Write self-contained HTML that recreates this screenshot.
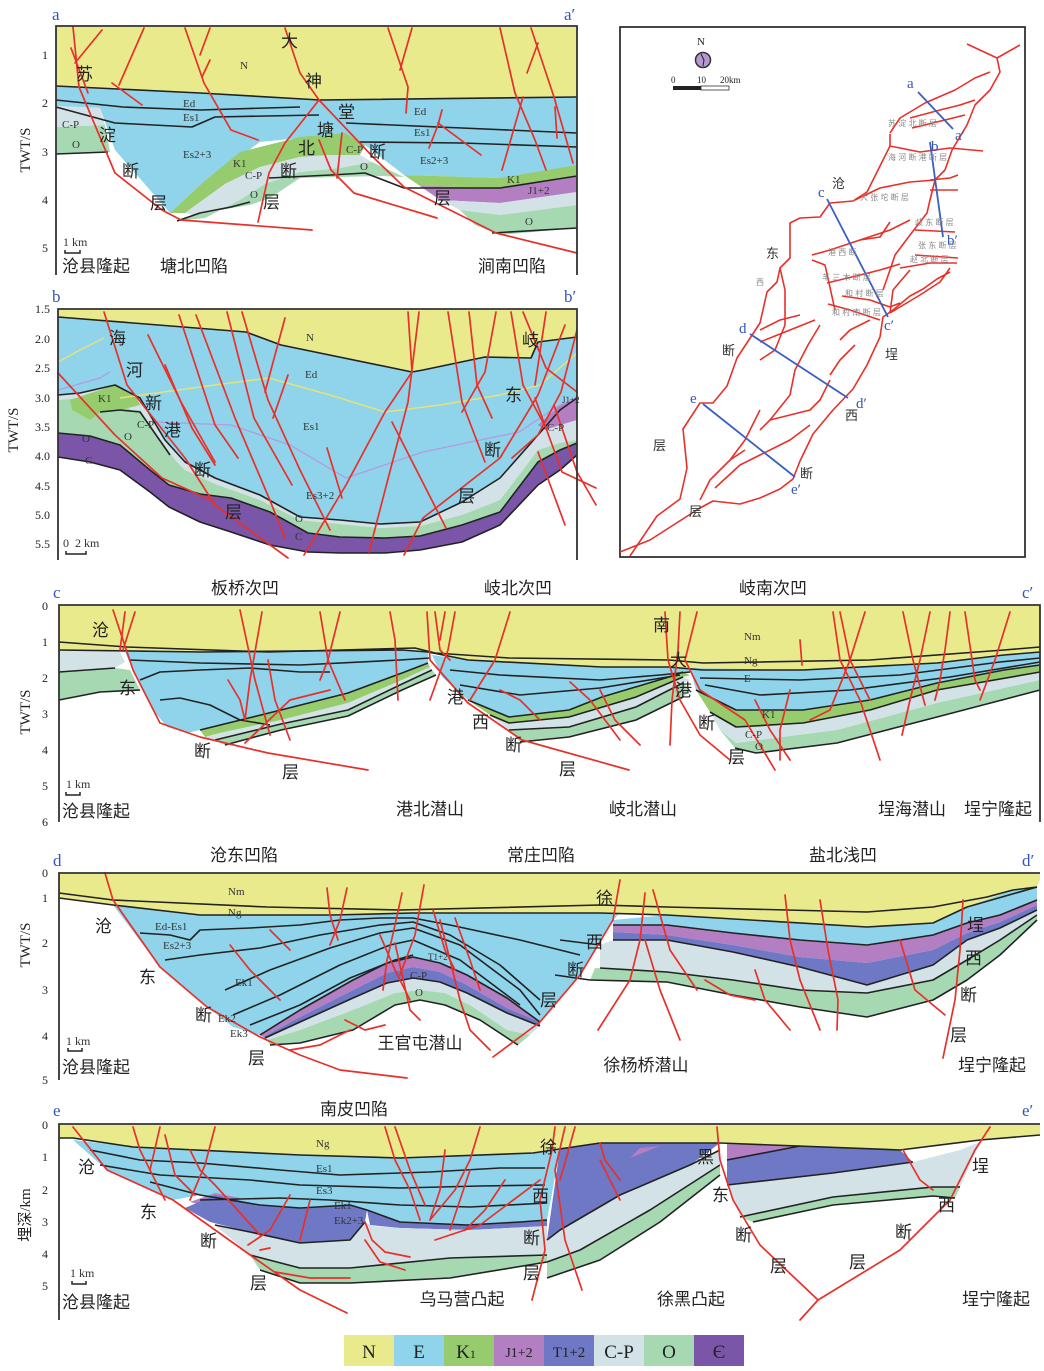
<!DOCTYPE html>
<html><head><meta charset="utf-8"><style>
html,body{margin:0;padding:0;background:#fff;}
svg{display:block;}
.cj{font-family:"Liberation Sans","Noto Sans CJK SC",sans-serif;font-size:17px;fill:#222;}
.bt{font-family:"Liberation Sans","Noto Sans CJK SC",sans-serif;font-size:17px;fill:#222;}
.sm{font-family:"Liberation Serif",serif;font-size:11px;fill:#333;}
.tk{font-family:"Liberation Serif",serif;font-size:12px;fill:#222;text-anchor:end;}
.bl{font-family:"Liberation Serif",serif;font-size:17px;fill:#3355bb;}
.f{fill:none;stroke:#e8302a;stroke-width:1.7;stroke-linejoin:round;stroke-linecap:round;}
.h{fill:none;stroke:#222;stroke-width:1.6;stroke-linejoin:round;}
.fr{fill:none;stroke:#333;stroke-width:1.8;}
.N{fill:#e9ea8c}.E{fill:#8fd4ea}.K{fill:#97cc6e}.J{fill:#b47ec2}.T{fill:#6f78c4}.C{fill:#d3e2e6}.O{fill:#a6d9b2}.Q{fill:#7b55a8}
.mp{fill:none;stroke:#e8302a;stroke-width:1.6;stroke-linejoin:round;}
.ml{stroke:#3a5fc0;stroke-width:1.8;}
.gs{font-family:"Liberation Sans","Noto Sans CJK SC",sans-serif;font-size:8px;fill:#888;}
</style></head><body>
<svg width="1044" height="1371" viewBox="0 0 1044 1371" xmlns="http://www.w3.org/2000/svg">
<rect width="1044" height="1371" fill="#fff"/>

<!-- ===== Panel a ===== -->
<polygon class="N" points="56,26 577,26 577,97 320,100 200,93 56,86"/>
<polygon class="E" points="56,86 200,93 320,100 577,97 577,168 500,178 404,175 365,145 330,135 260,142 200,185 170,213 150,190 115,150 100,108 56,106"/>
<polygon class="C" points="56,106 100,108 105,125 56,127"/>
<polygon class="O" points="56,127 105,125 110,152 56,154"/>
<polygon class="K" points="170,213 200,185 240,152 300,137 345,133 365,145 360,155 330,155 300,157 260,167 225,184 185,213"/>
<polygon class="C" points="185,213 225,184 260,167 300,157 330,155 360,155 372,162 340,168 300,172 265,184 240,200 205,218"/>
<polygon class="O" points="205,218 240,200 265,184 300,172 340,168 372,162 404,177 380,176 340,177 300,178 270,198 250,205 232,208 200,214 177,221"/>
<polygon class="K" points="404,175 500,178 577,165 577,176 500,188 420,186"/>
<polygon class="J" points="420,186 500,188 577,176 577,192 500,203 440,200"/>
<polygon class="C" points="440,200 500,203 577,192 577,205 500,215 460,210"/>
<polygon class="O" points="460,210 500,215 577,205 577,228 500,235 475,225"/>
<polyline class="h" points="56,86 200,93 320,100 577,97"/>
<polyline class="h" points="56,100 123,107 200,110 300,107"/>
<polyline class="h" points="56,107 115,123 192,127 215,117 319,115"/>
<polyline class="h" points="346,123 462,128 577,133"/>
<polyline class="h" points="358,142 462,143 577,147"/>
<polyline class="h" points="56,154 108,152"/>
<polyline class="h" points="177,221 200,213 231,207 250,202"/>
<polyline class="h" points="269,178 331,175 365,173 404,188 500,188 577,176"/>
<polyline class="h" points="492,233 577,228"/>
<polyline class="f" points="73,27 79,87 115,173 162,210 181,220 312,230"/>
<polyline class="f" points="71,48 88,93"/>
<polyline class="f" points="102,30 75,63"/>
<polyline class="f" points="144,28 119,85"/>
<polyline class="f" points="112,83 142,105"/>
<polyline class="f" points="185,28 204,83 231,130 258,140"/>
<polyline class="f" points="210,28 200,55"/>
<polyline class="f" points="210,60 202,77"/>
<polyline class="f" points="285,28 300,73 319,100 373,157 404,187 496,233 577,253"/>
<polyline class="f" points="319,100 285,143 269,173 258,222"/>
<polyline class="f" points="319,140 331,170 354,193 437,218"/>
<polyline class="f" points="342,133 337,178"/>
<polyline class="f" points="388,28 408,87 406,113"/>
<polyline class="f" points="412,28 400,70"/>
<polyline class="f" points="500,28 515,93 535,140 546,170"/>
<polyline class="f" points="531,28 554,97 573,163"/>
<polyline class="f" points="523,97 502,170"/>
<polyline class="f" points="538,43 527,73"/>
<polyline class="f" points="442,110 438,125 429,148"/>
<polyline class="f" points="438,123 481,155"/>
<polyline class="f" points="555,107 557,138"/>
<polyline class="fr" points="56,275 56,26 577,26 577,275"/>
<g class="tk"><text x="48" y="59">1</text><text x="48" y="107">2</text><text x="48" y="156">3</text><text x="48" y="204">4</text><text x="48" y="252">5</text></g>
<text class="bt" transform="translate(30,150) rotate(-90)" text-anchor="middle" style="font-family:'Liberation Serif',serif;font-size:15px">TWT/S</text>
<text class="bl" x="52" y="20">a</text><text class="bl" x="564" y="20">a′</text>
<g class="sm"><text x="240" y="69">N</text><text x="183" y="107">Ed</text><text x="183" y="121">Es1</text><text x="183" y="158">Es2+3</text><text x="233" y="167">K1</text><text x="245" y="179">C-P</text><text x="250" y="198">O</text><text x="62" y="128">C-P</text><text x="72" y="148">O</text><text x="414" y="115">Ed</text><text x="414" y="136">Es1</text><text x="420" y="164">Es2+3</text><text x="507" y="183">K1</text><text x="528" y="194">J1+2</text><text x="525" y="225">O</text><text x="346" y="153">C-P</text><text x="360" y="170">O</text></g>
<g class="cj"><text x="76" y="80">苏</text><text x="99" y="141">淀</text><text x="122" y="177">断</text><text x="150" y="209">层</text><text x="281" y="47">大</text><text x="305" y="87">神</text><text x="338" y="118">堂</text><text x="317" y="136">塘</text><text x="298" y="154">北</text><text x="280" y="177">断</text><text x="263" y="208">层</text><text x="369" y="158">断</text><text x="434" y="204">层</text></g>
<g class="bt"><text x="62" y="272">沧县隆起</text><text x="160" y="272">塘北凹陷</text><text x="478" y="272">涧南凹陷</text></g>
<text class="sm" x="63" y="246" style="font-size:12px">1 km</text><polyline points="65,250 65,253 80,253 80,250" fill="none" stroke="#222" stroke-width="1.5"/>

<!-- ===== Panel b ===== -->
<polygon class="N" points="58,309 577,309 577,337 538,342 531,358 485,357 423,370 412,372 281,345 246,332 58,317"/>
<polygon class="E" points="58,317 246,332 281,345 412,372 423,370 485,357 531,358 538,342 577,337 577,398 560,410 538,435 500,478 462,502 420,522 380,524 340,520 300,517 260,495 215,478 185,462 165,440 140,398 115,385 80,393 58,395"/>
<polygon class="C" points="58,395 80,393 115,385 140,398 165,440 185,462 215,478 260,495 300,517 340,520 380,524 420,522 462,502 500,478 538,435 560,410 577,398 577,440 560,443 538,450 500,500 462,515 420,526 380,528 340,524 300,520 260,500 215,484 185,470 165,450 140,415 115,400 80,398 58,400"/>
<polygon class="O" points="58,400 80,398 115,400 140,415 165,450 185,470 215,484 260,500 300,520 340,524 380,528 420,526 462,515 500,500 538,450 560,443 577,440 577,443 560,450 538,462 500,512 462,525 420,536 385,538 340,537 308,533 270,512 231,498 200,494 169,485 150,470 120,445 90,436 58,433"/>
<polygon class="Q" points="58,433 90,436 120,445 150,470 169,485 200,494 231,498 270,512 308,533 340,537 385,538 420,536 462,525 500,512 538,462 560,450 577,443 577,455 560,470 538,485 500,525 462,542 420,550 385,553 340,553 308,552 270,545 231,532 200,522 169,507 150,492 120,470 90,462 58,457"/>
<polygon class="K" points="70,400 115,385 135,395 140,405 120,410 100,412 90,420 72,410"/>
<polygon class="O" points="95,418 120,410 140,410 160,440 175,460 150,458 120,445 100,438"/>
<polygon class="J" points="538,425 560,405 577,397 577,420 560,425 545,430"/>
<polyline fill="none" stroke="#e4e27a" stroke-width="1.5" points="58,362 80,350 104,338"/>
<polyline fill="none" stroke="#e4e27a" stroke-width="1.5" points="120,398 215,385 269,378 330,395 385,412 440,405 500,395 540,385 577,353"/>
<polyline fill="none" stroke="#b59ae0" stroke-width="1.3" points="58,390 100,378 110,372"/>
<polyline fill="none" stroke="#b59ae0" stroke-width="1.3" points="154,422 231,425 290,445 346,478 423,452 480,440 519,432 560,405 577,398"/>
<polyline class="h" points="58,317 246,332 281,345 412,372 423,370 485,357 531,358 538,342 577,337"/>
<polyline class="h" points="58,395 80,393 115,385 140,398 165,440 185,462 215,478 260,495 300,517 340,520 380,524 420,522 462,502 500,478 538,435 560,410 577,398"/>
<polyline class="h" points="58,433 90,436 120,445 150,470 169,485 200,494 231,498 270,512 308,533 340,537 385,538 420,536 462,525 500,512 538,462 560,450 577,443"/>
<polyline class="h" points="58,457 90,462 120,470 150,492 169,507 200,522 231,532 270,545 308,552 340,553 385,553 420,550 462,542 500,525 538,485 560,470 577,455"/>
<polyline class="h" points="100,412 120,410 140,412 170,455"/>
<polyline class="f" points="58,373 115,435 162,478 215,502"/>
<polyline class="f" points="104,312 127,385 185,458 215,505 288,558"/>
<polyline class="f" points="148,335 181,402 215,462"/>
<polyline class="f" points="165,365 192,428 215,465"/>
<polyline class="f" points="179,315 215,425 238,458"/>
<polyline class="f" points="196,315 235,418 269,498 285,538"/>
<polyline class="f" points="227,312 254,418 292,485"/>
<polyline class="f" points="242,312 268,400 300,470 330,530"/>
<polyline class="f" points="285,318 265,392"/>
<polyline class="f" points="288,375 273,418"/>
<polyline class="f" points="327,448 342,498"/>
<polyline class="f" points="408,312 412,372 385,412 346,485 304,555"/>
<polyline class="f" points="419,312 408,402 369,552"/>
<polyline class="f" points="392,422 446,528"/>
<polyline class="f" points="448,312 462,402 485,462"/>
<polyline class="f" points="469,312 477,385 492,418"/>
<polyline class="f" points="496,312 485,372 462,412"/>
<polyline class="f" points="511,312 523,385 546,428"/>
<polyline class="f" points="523,312 546,368 577,392"/>
<polyline class="f" points="546,312 535,385"/>
<polyline class="f" points="565,325 538,395 500,458 423,518 404,555"/>
<polyline class="f" points="577,330 561,392 538,435 512,458"/>
<polyline class="f" points="535,398 562,472 596,488"/>
<polyline class="f" points="554,405 577,472 596,505"/>
<polyline class="f" points="538,452 565,525"/>
<polyline class="fr" points="58,560 58,309 577,309 577,560"/>
<g class="tk"><text x="50" y="313">1.5</text><text x="50" y="343">2.0</text><text x="50" y="372">2.5</text><text x="50" y="402">3.0</text><text x="50" y="431">3.5</text><text x="50" y="460">4.0</text><text x="50" y="490">4.5</text><text x="50" y="519">5.0</text><text x="50" y="548">5.5</text></g>
<text transform="translate(18,430) rotate(-90)" text-anchor="middle" style="font-family:'Liberation Serif',serif;font-size:15px;fill:#222">TWT/S</text>
<text class="bl" x="52" y="302">b</text><text class="bl" x="564" y="302">b′</text>
<g class="sm"><text x="306" y="341">N</text><text x="305" y="378">Ed</text><text x="303" y="430">Es1</text><text x="306" y="499">Es3+2</text><text x="295" y="522">O</text><text x="295" y="540">C</text><text x="98" y="402">K1</text><text x="137" y="428">C-P</text><text x="82" y="442">O</text><text x="124" y="440">O</text><text x="85" y="464">C</text><text x="547" y="431">C-P</text><text x="562" y="403" style="font-size:9px">J1+2</text></g>
<g class="cj"><text x="109" y="344">海</text><text x="126" y="376">河</text><text x="145" y="409">新</text><text x="164" y="436">港</text><text x="194" y="476">断</text><text x="225" y="518">层</text><text x="522" y="346">岐</text><text x="505" y="401">东</text><text x="484" y="456">断</text><text x="458" y="502">层</text></g>
<text class="sm" x="63" y="547" style="font-size:12px">0&#160;&#160;2 km</text><polyline points="66,551 66,554 86,554 86,551" fill="none" stroke="#222" stroke-width="1.5"/>

<!-- ===== Map ===== -->
<rect x="620" y="27" width="405" height="530" fill="none" stroke="#333" stroke-width="1.8"/>
<text x="697" y="45" style="font-family:'Liberation Serif',serif;font-size:11px;fill:#222">N</text>
<circle cx="703" cy="60" r="7.5" fill="#b49ad0" stroke="#333" stroke-width="1.5"/>
<polyline points="701,54 704,60 703,66" fill="none" stroke="#222" stroke-width="1"/>
<rect x="673" y="86" width="28" height="4" fill="#222"/><rect x="701" y="86" width="28" height="4" fill="#fff" stroke="#333" stroke-width="0.8"/>
<g style="font-family:'Liberation Serif',serif;font-size:9px;fill:#222"><text x="671" y="83">0</text><text x="697" y="83">10</text><text x="720" y="83">20km</text></g>
<polyline class="mp" points="630,556 657,516 680,499 687,468 683,429 700,403 713,403 727,386 737,358 760,323 767,292 777,282 780,268 790,258 790,223 800,218 820,217 830,203 853,201 867,192 877,172 890,146 890,134"/>
<polyline class="mp" points="620,552 650,540 700,508 713,501 740,504 760,498 780,489 793,479 800,461 813,434 833,410 853,389 867,365 880,337 883,317 893,310 910,296 923,289 937,279 950,272"/>
<polyline class="mp" points="890,146 920,152 950,148 983,151"/>
<polyline class="mp" points="967,44 997,58 1000,72 990,90 975,105 967,125 952,150 945,170 935,180 930,200 927,213 910,235 895,255 890,270 883,290"/>
<polyline class="mp" points="997,58 1020,45"/>
<polyline class="mp" points="890,133 900,118 925,103 955,90 975,78 990,72"/>
<polyline class="mp" points="910,118 940,110 960,105 975,100"/>
<polyline class="mp" points="912,128 945,120 965,115"/>
<polyline class="mp" points="855,200 880,188 910,182 935,180"/>
<polyline class="mp" points="930,180 950,178 958,175"/>
<polyline class="mp" points="930,190 958,190"/>
<polyline class="mp" points="812,255 830,250 860,240 890,230 910,220"/>
<polyline class="mp" points="860,240 880,237 890,222"/>
<polyline class="mp" points="812,260 825,265 835,310"/>
<polyline class="mp" points="827,283 860,275 880,270 900,264"/>
<polyline class="mp" points="842,296 870,300 890,307 900,303"/>
<polyline class="mp" points="828,304 850,310 880,320"/>
<polyline class="mp" points="915,230 955,232"/>
<polyline class="mp" points="915,255 958,258"/>
<polyline class="mp" points="900,268 930,263 957,263"/>
<polyline class="mp" points="890,313 920,295 940,282 950,268"/>
<polyline class="mp" points="890,313 893,290 910,270"/>
<polyline class="mp" points="780,268 785,290 785,325 775,350 760,360"/>
<polyline class="mp" points="760,330 780,320 800,315"/>
<polyline class="mp" points="760,342 790,330 815,320"/>
<polyline class="mp" points="820,325 808,345 795,370 790,395 770,420 760,430"/>
<polyline class="mp" points="855,345 840,360 830,375"/>
<polyline class="mp" points="870,320 850,330 840,340"/>
<polyline class="mp" points="770,420 790,415 810,410 820,400 830,380"/>
<polyline class="mp" points="810,425 790,440 760,455 740,465 715,488"/>
<polyline class="mp" points="745,450 730,460 710,480 700,500"/>
<polyline class="mp" points="760,410 745,440 730,460"/>
<line class="ml" x1="918" y1="92" x2="953" y2="129"/>
<line class="ml" x1="930" y1="142" x2="943" y2="237"/>
<line class="ml" x1="827" y1="199" x2="888" y2="317"/>
<line class="ml" x1="750" y1="334" x2="848" y2="398"/>
<line class="ml" x1="703" y1="404" x2="795" y2="477"/>
<g class="bl" style="font-size:15px"><text x="907" y="88">a</text><text x="955" y="140">a′</text><text x="931" y="151">b</text><text x="947" y="245">b′</text><text x="818" y="197">c</text><text x="884" y="330">c′</text><text x="739" y="333">d</text><text x="856" y="408">d′</text><text x="690" y="403">e</text><text x="791" y="494">e′</text></g>
<g class="cj" style="font-size:13px;fill:#333"><text x="832" y="188">沧</text><text x="766" y="258">东</text><text x="722" y="355">断</text><text x="653" y="450">层</text><text x="689" y="516">层</text><text x="885" y="359">埕</text><text x="845" y="420">西</text><text x="800" y="478">断</text></g>
<g class="gs"><text x="888" y="126">苏 淀 北 断 层</text><text x="888" y="160">海 河 断 港 断 层</text><text x="860" y="200">大 张 坨 断 层</text><text x="828" y="255">港 西 断</text><text x="915" y="225">歧 东 断 层</text><text x="918" y="248">张 东 断 层</text><text x="910" y="262">赵 北 断 层</text><text x="822" y="280">羊 三 木 断 层</text><text x="845" y="296">和 村 断 层</text><text x="832" y="315">和 村 南 断 层</text><text x="756" y="285">西</text></g>

<!-- ===== Panel c ===== -->
<polygon class="N" points="59,605 1040,605 1040,647 1004,650 870,660 703,663 669,660 509,658 435,653 415,648 268,652 127,647 59,642"/>
<polygon class="N" points="59,642 127,647 268,652 415,648 435,653 509,658 669,660 703,663 870,660 1004,650 1040,647 1040,652 1004,655 937,663 803,670 703,670 669,667 602,667 468,660 428,652 402,650 201,652 59,650"/>
<polygon class="C" points="59,650 120,652 125,662 115,668 59,672"/>
<polygon class="O" points="59,672 115,668 130,670 140,690 100,692 59,700"/>
<polygon class="E" points="125,652 201,652 402,650 428,652 428,663 402,673 348,693 281,710 200,730 187,733 167,727 153,710 133,670"/>
<polygon class="K" points="200,730 281,710 348,693 402,673 428,663 430,667 402,680 348,703 281,720 220,733 205,737"/>
<polygon class="C" points="205,737 220,733 281,720 348,703 402,680 430,667 432,670 402,684 348,710 281,724 215,740"/>
<polygon class="O" points="215,740 281,724 348,710 402,684 432,670 436,675 402,690 348,716 281,730 225,745"/>
<polygon class="E" points="432,655 468,660 602,667 669,667 703,670 683,672 669,677 602,697 569,710 509,717 468,700 442,677"/>
<polygon class="K" points="468,700 509,717 569,710 602,697 669,677 683,672 690,675 683,677 636,697 569,717 509,723 490,715"/>
<polygon class="C" points="490,715 509,723 569,717 636,697 683,677 690,680 683,683 636,707 569,727 509,730"/>
<polygon class="O" points="509,730 569,727 636,707 683,683 690,690 683,697 636,720 569,737 520,742"/>
<polygon class="E" points="690,668 803,670 937,663 1004,655 1040,652 1040,665 1004,670 937,683 870,700 803,710 736,710 696,690"/>
<polygon class="K" points="696,690 736,710 803,710 870,700 937,683 1004,670 1040,665 1040,672 937,690 870,710 803,723 736,727 710,712"/>
<polygon class="C" points="710,712 736,727 803,723 870,710 937,690 1040,672 1040,680 937,703 837,730 736,743 720,730"/>
<polygon class="O" points="720,730 736,743 837,730 937,703 1040,680 1040,690 937,717 837,743 756,753 735,748"/>
<g class="h">
<polyline points="59,642 127,647 268,652 415,648 435,653 509,658 669,660 703,663 870,660 1004,650 1040,647"/>
<polyline points="59,650 201,652 402,650 428,652 468,660 602,667 669,667 703,670 803,670 937,663 1004,655 1040,652"/>
<polyline points="130,660 200,663 300,665 400,660 430,658"/>
<polyline points="140,680 160,672 200,670 250,668 300,672 330,672"/>
<polyline points="160,700 180,698 210,705 240,720 270,725"/>
<polyline points="200,730 281,710 348,693 402,673 428,663"/>
<polyline points="215,740 281,724 348,710 402,684 432,670"/>
<polyline points="225,745 281,730 348,716 402,690 436,675"/>
<polyline points="59,672 115,668"/><polyline points="59,700 100,692 140,690"/>
<polyline points="450,670 500,675 600,680 660,675 690,672"/>
<polyline points="460,685 520,695 600,688 680,675"/>
<polyline points="468,700 509,717 569,710 602,697 669,677 683,672"/>
<polyline points="490,715 509,723 569,717 636,697 683,677"/>
<polyline points="509,730 569,727 636,707 683,683"/>
<polyline points="520,742 569,737 636,720 683,697"/>
<polyline points="700,678 800,680 900,675 1000,662 1040,658"/>
<polyline points="705,685 760,695 850,690 950,677 1040,662"/>
<polyline points="696,690 736,710 803,710 870,700 937,683 1004,670 1040,665"/>
<polyline points="710,712 736,727 803,723 870,710 937,690 1040,672"/>
<polyline points="735,748 756,753 837,743 937,717 1040,690"/>
</g>
<g class="f">
<polyline points="113,610 133,670 160,723 200,737 268,753 368,770"/>
<polyline points="125,612 120,650"/><polyline points="135,612 123,650"/>
<polyline points="240,610 255,680 270,735"/><polyline points="262,612 250,680 245,720"/>
<polyline points="268,660 275,700 290,740"/><polyline points="245,743 290,700 330,690"/>
<polyline points="320,612 328,660 345,700"/><polyline points="340,612 328,660 320,680"/>
<polyline points="390,612 395,640 398,700"/><polyline points="228,680 240,700 245,720"/>
<polyline points="427,612 430,660 468,703 522,740 629,770"/>
<polyline points="435,612 440,650 450,660"/><polyline points="445,612 440,640"/><polyline points="455,612 448,650 430,700"/>
<polyline points="510,612 495,660 470,700"/><polyline points="500,690 520,700 540,720"/>
<polyline points="570,682 590,700 620,740"/><polyline points="600,690 615,720 640,745"/>
<polyline points="665,612 668,660 680,700 700,735 730,760"/><polyline points="680,612 678,650 672,700 670,745"/>
<polyline points="697,612 685,660 700,690 745,720 775,770"/>
<polyline points="755,700 770,730 790,760"/><polyline points="790,690 780,730 780,760"/>
<polyline points="800,640 802,665"/>
<polyline points="833,612 840,660 860,700 880,760"/><polyline points="840,612 850,660 870,700"/><polyline points="865,612 850,660 830,710 810,720"/>
<polyline points="903,612 913,660 925,705"/><polyline points="930,612 920,660 910,700 902,735"/><polyline points="950,612 945,650 940,680 935,700"/>
<polyline points="965,612 975,680 980,690"/><polyline points="1010,612 995,660 980,700"/>
</g>
<polyline class="fr" points="59,822 59,605 1040,605 1040,822"/>
<g class="tk"><text x="48" y="610">0</text><text x="48" y="646">1</text><text x="48" y="682">2</text><text x="48" y="718">3</text><text x="48" y="754">4</text><text x="48" y="790">5</text><text x="48" y="826">6</text></g>
<text transform="translate(30,712) rotate(-90)" text-anchor="middle" style="font-family:'Liberation Serif',serif;font-size:15px;fill:#222">TWT/S</text>
<text class="bl" x="53" y="598">c</text><text class="bl" x="1022" y="598">c′</text>
<g class="bt" text-anchor="middle"><text x="245" y="594">板桥次凹</text><text x="518" y="594">岐北次凹</text><text x="773" y="594">岐南次凹</text></g>
<g class="cj"><text x="92" y="636">沧</text><text x="119" y="694">东</text><text x="194" y="757">断</text><text x="282" y="778">层</text><text x="653" y="631">南</text><text x="670" y="666">大</text><text x="675" y="696">港</text><text x="698" y="729">断</text><text x="728" y="763">层</text><text x="447" y="703">港</text><text x="472" y="728">西</text><text x="505" y="751">断</text><text x="559" y="775">层</text></g>
<g class="sm"><text x="744" y="640">Nm</text><text x="744" y="664">Ng</text><text x="744" y="682">E</text><text x="762" y="718">K1</text><text x="745" y="738">C-P</text><text x="755" y="750">O</text></g>
<g class="bt"><text x="62" y="817">沧县隆起</text><text text-anchor="middle" x="430" y="815">港北潜山</text><text text-anchor="middle" x="643" y="815">岐北潜山</text><text x="878" y="815">埕海潜山</text><text x="964" y="815">埕宁隆起</text></g>
<text class="sm" x="66" y="788" style="font-size:12px">1 km</text><polyline points="66,792 66,795 80,795 80,792" fill="none" stroke="#222" stroke-width="1.5"/>

<!-- ===== Panel d ===== -->
<polygon class="N" points="59,873 1040,873 1040,880 1013,890 987,897 933,907 867,912 667,907 600,905 400,910 267,907 113,900 59,893"/>
<polygon class="N" points="59,893 113,900 267,907 400,910 600,905 667,907 867,912 933,907 987,897 1013,890 1040,880 1037,887 967,907 933,923 867,927 667,915 600,913 413,913 333,915 200,915 113,905 59,898"/>
<polygon class="E" points="113,905 200,915 333,915 413,913 600,913 620,913 613,920 580,975 540,1022 507,998 467,975 440,963 413,957 387,963 353,980 300,1010 260,1035 233,1027 207,1007 160,967"/>
<polygon class="J" points="260,1035 300,1010 353,980 387,963 413,957 440,963 467,975 507,998 540,1022 507,1008 467,985 440,972 413,967 387,973 353,990 300,1017 263,1037"/>
<polygon class="T" points="263,1037 300,1017 353,990 387,973 413,967 440,972 467,985 507,1008 540,1022 540,1026 507,1013 467,993 440,982 413,978 387,983 353,998 300,1022 265,1038"/>
<polygon class="C" points="265,1038 300,1022 353,998 387,983 413,978 440,982 467,993 507,1013 540,1026 530,1035 507,1030 470,1005 445,993 420,990 395,993 353,1010 300,1030 267,1040"/>
<polygon class="O" points="267,1040 300,1030 353,1010 395,993 420,990 445,993 470,1005 507,1030 530,1035 518,1045 480,1020 445,1005 420,1000 395,1005 353,1030 300,1043 270,1045"/>
<polygon class="E" points="613,920 667,915 867,927 933,923 967,907 1013,890 1037,887 1037,900 1000,915 967,923 933,935 867,945 800,940 733,933 667,925 613,925"/>
<polygon class="J" points="613,925 667,925 733,933 800,940 867,945 933,935 967,923 1000,915 1037,900 1037,905 1000,922 967,933 933,950 867,963 800,957 733,945 667,935 613,932"/>
<polygon class="T" points="613,932 667,935 733,945 800,957 867,963 933,950 967,933 1000,922 1037,905 1037,910 1000,928 967,940 933,965 867,985 800,967 733,952 667,940 613,940"/>
<polygon class="C" points="600,945 613,940 667,940 733,952 800,967 867,985 933,965 967,940 1000,928 1037,910 1037,915 1000,940 967,960 933,980 867,993 800,990 733,980 667,972 600,968"/>
<polygon class="O" points="595,968 667,972 733,980 800,990 867,993 933,980 967,960 1000,940 1037,915 1037,920 1000,955 967,980 933,1000 867,1017 800,1007 733,995 667,982 590,980"/>
<g class="h">
<polyline points="59,893 113,900 267,907 400,910 600,905 667,907 867,912 933,907 987,897 1013,890 1037,887"/>
<polyline points="59,898 113,905 200,915 333,915 413,913 600,913 667,915 867,927 933,923 967,907 1037,887"/>
<polyline points="140,933 170,935 190,940 200,930 250,928 300,925 340,920 380,918 413,918 450,925 520,940 560,950 580,955"/>
<polyline points="165,960 200,955 260,948 320,935 380,925 413,922 450,935 500,965 540,1000"/>
<polyline points="225,990 270,970 330,948 380,933 413,928 460,945 520,990 540,1015"/>
<polyline points="233,1015 280,995 340,965 390,945 413,940 460,960 520,1005"/>
<polyline points="250,1025 300,1005 350,978 395,960 413,955"/>
<polyline points="260,1035 300,1010 353,980 387,963 413,957 440,963 467,975 507,998 540,1022"/>
<polyline points="265,1038 300,1022 353,998 387,983 413,978 440,982 467,993 507,1013 540,1026"/>
<polyline points="270,1045 300,1043 353,1030 395,1005 420,1000 445,1005 480,1020 518,1045"/>
<polyline points="613,925 667,925 733,933 800,940 867,945 933,935 967,923 1000,915 1037,900"/>
<polyline points="613,940 667,940 733,952 800,967 867,985 933,965 967,940 1000,928 1037,910"/>
<polyline points="600,968 667,972 733,980 800,990 867,993 933,980 967,960 1000,940 1037,915"/>
<polyline points="590,980 667,982 733,995 800,1007 867,1017 933,1000 967,980 1000,955 1037,920"/>
<polyline points="560,940 600,945"/><polyline points="555,975 590,980"/>
</g>
<g class="f">
<polyline points="105,873 113,900 160,967 207,1007 260,1037 300,1055 340,1070 407,1078"/>
<polyline points="327,888 330,915 338,940"/><polyline points="347,888 340,920 330,945"/>
<polyline points="230,945 250,970 280,1000"/><polyline points="270,930 290,950"/>
<polyline points="402,893 395,925 387,960 383,990"/><polyline points="424,885 415,935 400,975"/>
<polyline points="380,935 395,970 410,1000"/><polyline points="395,943 410,1010 420,1020"/>
<polyline points="440,920 450,960 460,1000 470,1030 490,1050"/><polyline points="455,918 470,960 480,990"/>
<polyline points="433,910 445,950 455,970"/><polyline points="345,1020 365,1030 385,1025"/><polyline points="290,1050 320,1045 350,1030"/>
<polyline points="620,880 613,920 580,975 540,1022 493,1057"/>
<polyline points="645,893 640,940 630,980 598,1030"/><polyline points="645,940 660,990 680,1040"/>
<polyline points="653,890 670,950 697,990"/><polyline points="705,980 730,995 755,1000"/>
<polyline points="785,895 790,940 800,980 820,1030"/><polyline points="820,900 828,950 838,1000 837,1030"/>
<polyline points="755,970 765,1000 790,1030"/><polyline points="900,940 915,990 945,1015"/>
<polyline points="963,900 960,950 955,1000 943,1058"/>
</g>
<polyline class="fr" points="59,1080 59,873 1040,873"/>
<g class="tk"><text x="48" y="877">0</text><text x="48" y="902">1</text><text x="48" y="947">2</text><text x="48" y="994">3</text><text x="48" y="1040">4</text><text x="48" y="1084">5</text></g>
<text transform="translate(30,945) rotate(-90)" text-anchor="middle" style="font-family:'Liberation Serif',serif;font-size:15px;fill:#222">TWT/S</text>
<text class="bl" x="53" y="866">d</text><text class="bl" x="1022" y="866">d′</text>
<g class="bt" text-anchor="middle"><text x="244" y="861">沧东凹陷</text><text x="541" y="861">常庄凹陷</text><text x="843" y="861">盐北浅凹</text></g>
<g class="sm"><text x="228" y="895">Nm</text><text x="228" y="916">Ng</text><text x="155" y="930">Ed-Es1</text><text x="163" y="949">Es2+3</text><text x="235" y="986">Ek1</text><text x="218" y="1022">Ek2</text><text x="230" y="1037">Ek3</text><text x="428" y="960" style="font-size:9px">T1+2</text><text x="410" y="979">C-P</text><text x="415" y="996">O</text></g>
<g class="cj"><text x="95" y="932">沧</text><text x="139" y="983">东</text><text x="195" y="1021">断</text><text x="248" y="1064">层</text><text x="596" y="904">徐</text><text x="586" y="948">西</text><text x="567" y="976">断</text><text x="540" y="1006">层</text><text x="967" y="931">埕</text><text x="965" y="964">西</text><text x="960" y="1001">断</text><text x="950" y="1041">层</text></g>
<g class="bt"><text x="62" y="1073">沧县隆起</text><text text-anchor="middle" x="420" y="1049">王官屯潜山</text><text text-anchor="middle" x="646" y="1071">徐杨桥潜山</text><text text-anchor="middle" x="992" y="1071">埕宁隆起</text></g>
<text class="sm" x="66" y="1045" style="font-size:12px">1 km</text><polyline points="68,1048 68,1051 82,1051 82,1048" fill="none" stroke="#222" stroke-width="1.5"/>

<!-- ===== Panel e ===== -->
<polygon class="N" points="59,1124 1040,1124 1040,1135 980,1140 900,1150 720,1143 600,1143 533,1153 400,1158 300,1155 133,1147 73,1138 59,1138"/>
<polygon class="E" points="73,1140 133,1147 300,1155 400,1158 533,1153 560,1150 547,1220 520,1222 467,1225 400,1222 367,1210 350,1205 300,1208 260,1205 200,1195 173,1200 107,1170"/>
<polygon class="J" points="190,1202 215,1193 240,1198 225,1210"/>
<polygon class="T" points="185,1208 215,1195 260,1205 300,1208 350,1205 367,1210 365,1222 350,1240 300,1243 250,1232 210,1222"/>
<polygon class="T" points="367,1210 400,1222 467,1225 520,1222 547,1220 547,1226 470,1230 400,1228 370,1225"/>
<polygon class="C" points="215,1225 250,1232 300,1243 350,1240 365,1222 372,1226 400,1228 470,1230 547,1226 547,1255 450,1258 350,1268 300,1268 250,1255"/>
<polygon class="O" points="250,1255 300,1268 350,1268 450,1258 547,1255 547,1262 450,1278 350,1283 300,1283 260,1270"/>
<polygon class="T" points="560,1148 600,1143 700,1143 720,1143 690,1165 620,1195 560,1230 547,1240"/>
<polygon class="J" points="640,1148 660,1146 630,1158"/>
<polygon class="C" points="547,1240 560,1230 620,1195 690,1165 720,1150 720,1165 650,1210 580,1250 547,1262"/>
<polygon class="O" points="547,1262 580,1250 650,1210 720,1165 720,1175 660,1222 600,1260 547,1278"/>
<polygon class="J" points="727,1144 800,1146 727,1160"/>
<polygon class="T" points="727,1160 800,1146 900,1150 913,1162 833,1173 727,1185"/>
<polygon class="C" points="727,1185 833,1173 913,1162 960,1150 980,1142 960,1187 933,1187 833,1197 740,1217 733,1200"/>
<polygon class="O" points="740,1217 833,1197 933,1187 960,1187 955,1198 933,1196 833,1205 753,1222"/>
<g class="h">
<polyline points="59,1138 73,1138 133,1147 300,1155 400,1158 533,1153 600,1143 720,1143 900,1150 980,1140 1040,1135"/>
<polyline points="90,1150 140,1160 200,1163 280,1170 340,1175 430,1172 500,1168 545,1168"/>
<polyline points="100,1165 160,1175 250,1180 300,1185 400,1188 480,1186 545,1185"/>
<polyline points="150,1182 200,1195 260,1205 300,1208 350,1205 367,1210 400,1222 467,1225 520,1222 547,1220"/>
<polyline points="200,1200 280,1198 330,1200 400,1205 470,1207 547,1203"/>
<polyline points="215,1225 250,1232 300,1243 350,1240 365,1222"/>
<polyline points="250,1255 300,1268 350,1268 450,1258 547,1255"/>
<polyline points="260,1270 300,1283 350,1283 450,1278 547,1262"/>
<polyline points="547,1240 560,1230 620,1195 690,1165 720,1150"/>
<polyline points="547,1262 580,1250 650,1210 720,1165"/>
<polyline points="547,1278 600,1260 660,1222 720,1175"/>
<polyline points="727,1160 800,1146"/>
<polyline points="727,1185 833,1173 913,1162"/>
<polyline points="740,1217 833,1197 933,1187 960,1187"/>
<polyline points="753,1222 833,1205 933,1196 955,1198"/>
</g>
<g class="f">
<polyline points="73,1127 107,1170 173,1200 253,1257 300,1290 347,1313"/>
<polyline points="133,1127 140,1150 155,1180 165,1200"/><polyline points="160,1127 150,1170"/><polyline points="165,1135 175,1175 195,1195"/>
<polyline points="215,1127 205,1165 190,1200"/><polyline points="190,1150 200,1170 215,1185 260,1235"/>
<polyline points="290,1195 270,1230 248,1245"/><polyline points="310,1200 300,1240"/>
<polyline points="260,1250 270,1248"/><polyline points="365,1222 372,1240 385,1252 410,1257"/><polyline points="365,1240 380,1262 405,1270"/>
<polyline points="275,1272 310,1278 350,1278"/>
<polyline points="385,1127 395,1160 410,1190 420,1220"/><polyline points="395,1127 410,1170 425,1205"/>
<polyline points="480,1127 470,1160 455,1190 430,1220"/><polyline points="445,1150 440,1190 430,1220"/><polyline points="470,1170 460,1200 450,1230"/>
<polyline points="540,1180 500,1210 480,1225 435,1240"/><polyline points="505,1180 485,1210 465,1230"/>
<polyline points="555,1127 552,1150 540,1200 545,1250 532,1300"/><polyline points="565,1127 555,1170 565,1240 582,1290"/>
<polyline points="575,1127 570,1145 560,1180"/><polyline points="600,1143 605,1160 620,1180"/><polyline points="600,1160 615,1190 620,1200"/>
<polyline points="717,1127 720,1160 733,1200 760,1245 818,1300"/>
<polyline points="990,1127 975,1150 950,1200 900,1250 818,1300 800,1320"/>
<polyline points="903,1150 920,1180 933,1190"/>
</g>
<polyline class="fr" points="59,1320 59,1124 1040,1124"/>
<g class="tk"><text x="48" y="1129">0</text><text x="48" y="1161">1</text><text x="48" y="1194">2</text><text x="48" y="1226">3</text><text x="48" y="1258">4</text><text x="48" y="1290">5</text></g>
<text transform="translate(30,1215) rotate(-90)" text-anchor="middle" style="font-family:'Liberation Serif','Noto Sans CJK SC',sans-serif;font-size:15px;fill:#222">埋深/km</text>
<text class="bl" x="53" y="1116">e</text><text class="bl" x="1022" y="1116">e′</text>
<text class="bt" x="354" y="1115" text-anchor="middle">南皮凹陷</text>
<g class="sm"><text x="316" y="1147">Ng</text><text x="316" y="1172">Es1</text><text x="316" y="1194">Es3</text><text x="334" y="1209">Ek1</text><text x="334" y="1224">Ek2+3</text></g>
<g class="cj"><text x="78" y="1173">沧</text><text x="140" y="1218">东</text><text x="200" y="1247">断</text><text x="250" y="1289">层</text><text x="540" y="1153">徐</text><text x="532" y="1202">西</text><text x="523" y="1244">断</text><text x="523" y="1279">层</text><text x="697" y="1163">黑</text><text x="712" y="1201">东</text><text x="735" y="1241">断</text><text x="770" y="1272">层</text><text x="849" y="1268">层</text><text x="895" y="1238">断</text><text x="938" y="1211">西</text><text x="972" y="1172">埕</text></g>
<g class="bt"><text x="62" y="1308">沧县隆起</text><text text-anchor="middle" x="462" y="1305">乌马营凸起</text><text text-anchor="middle" x="691" y="1305">徐黑凸起</text><text text-anchor="middle" x="996" y="1305">埕宁隆起</text></g>
<text class="sm" x="70" y="1277" style="font-size:12px">1 km</text><polyline points="72,1281 72,1284 86,1284 86,1281" fill="none" stroke="#222" stroke-width="1.5"/>

<!-- ===== Legend ===== -->
<g>
<rect x="344" y="1335" width="50" height="31" fill="#e9ea8c"/>
<rect x="394" y="1335" width="50" height="31" fill="#8fd4ea"/>
<rect x="444" y="1335" width="50" height="31" fill="#97cc6e"/>
<rect x="494" y="1335" width="50" height="31" fill="#b47ec2"/>
<rect x="544" y="1335" width="50" height="31" fill="#6f78c4"/>
<rect x="594" y="1335" width="50" height="31" fill="#d3e2e6"/>
<rect x="644" y="1335" width="50" height="31" fill="#a6d9b2"/>
<rect x="694" y="1335" width="50" height="31" fill="#7b55a8"/>
</g>
<g style="font-family:'Liberation Serif',serif;font-size:19px;fill:#222" text-anchor="middle">
<text x="369" y="1358">N</text><text x="419" y="1358">E</text><text x="466" y="1358">K<tspan style="font-size:12px">1</tspan></text><text x="519" y="1357" style="font-size:14px">J1+2</text><text x="569" y="1357" style="font-size:15px">T1+2</text><text x="619" y="1358">C-P</text><text x="669" y="1358">O</text><text x="719" y="1358">Є</text>
</g>
</svg>
</body></html>
